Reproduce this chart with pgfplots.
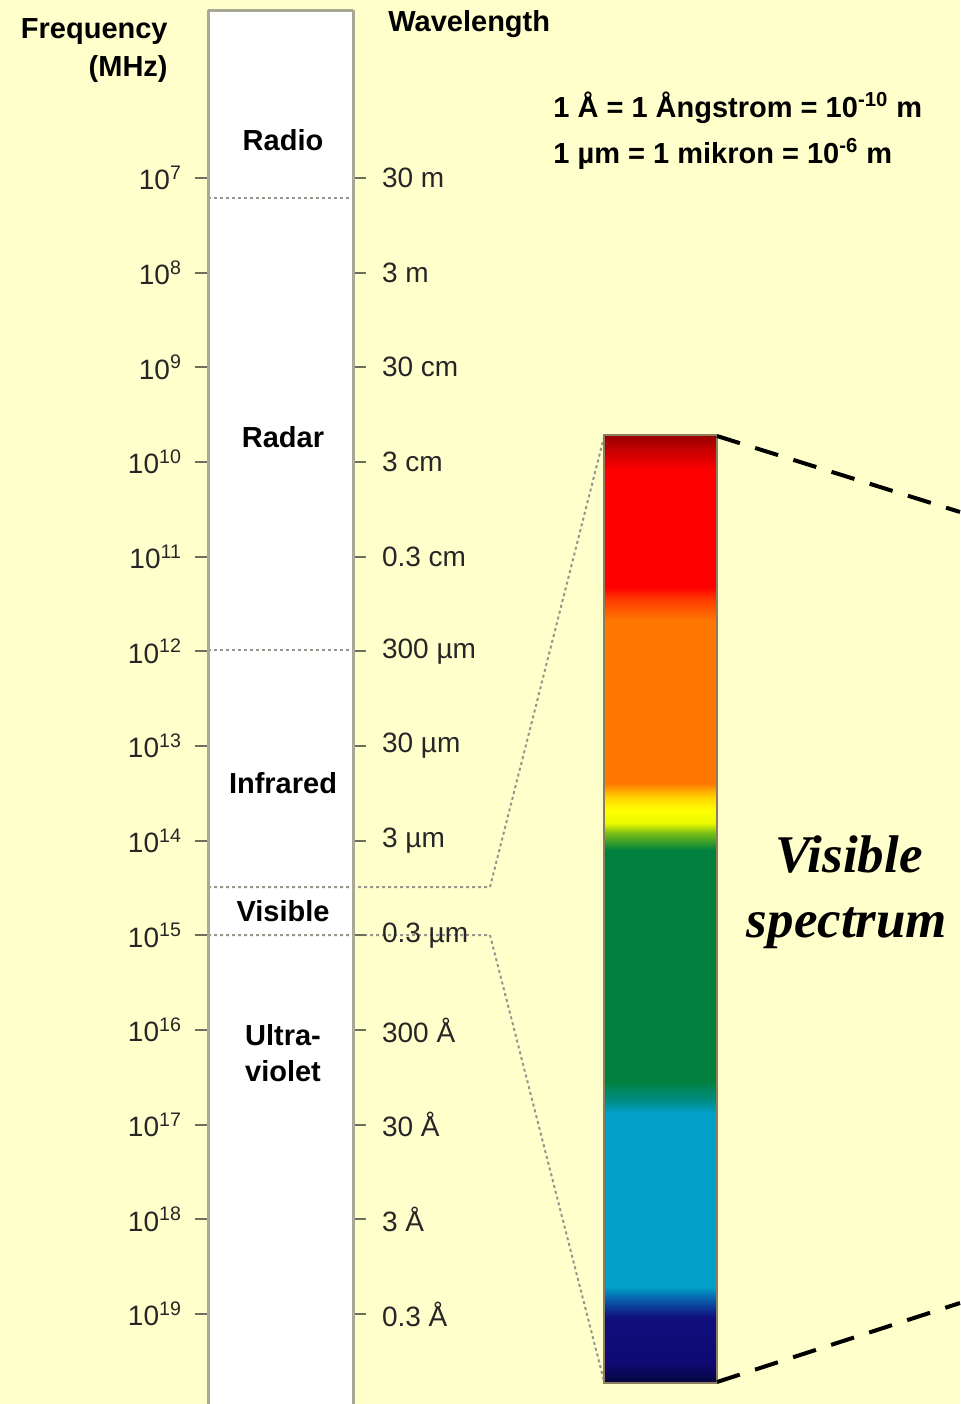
\documentclass[border=0pt]{standalone}
\usepackage{pgfplots}
\pgfplotsset{compat=1.18}
\usepackage{pgfplotstable}
\usepackage{fontspec}
\setmainfont{Liberation Sans}
\newfontfamily\timesfont{Liberation Serif}

\definecolor{bg}{RGB}{255,255,204}
\definecolor{colline}{RGB}{168,168,150}
\definecolor{tickc}{RGB}{110,110,95}
\definecolor{dotc}{RGB}{150,150,140}
\definecolor{barline}{RGB}{140,125,95}

\newcommand\lbl{\fontsize{14}{16}\selectfont}
\newcommand\blbl{\fontsize{14.5}{17}\selectfont\bfseries}
\tikzset{lab/.style={inner sep=0pt, font=\blbl},
    big/.style={inner sep=0pt, anchor=base, font=\timesfont\fontsize{26.5}{30}\selectfont\bfseries\itshape}}

% visible band: pixel x, pixel y, colour position
\pgfplotstableread{
x y c
604 435 0
717 435 0
604 450 15
717 450 15
604 470 35
717 470 35
604 587 152
717 587 152
604 600 165
717 600 165
604 620 185
717 620 185
604 783 348
717 783 348
604 797 362
717 797 362
604 810 375
717 810 375
604 823 388
717 823 388
604 833 398
717 833 398
604 850 415
717 850 415
604 1080 645
717 1080 645
604 1100 665
717 1100 665
604 1113 678
717 1113 678
604 1287 852
717 1287 852
604 1300 865
717 1300 865
604 1317 882
717 1317 882
604 1363 928
717 1363 928
604 1383 948
717 1383 948
}\visbar

\begin{document}
\begin{tikzpicture}
% whole picture, pixel coordinates
\begin{axis}[
    at={(0pt,0pt)}, anchor=south west,
    width=480pt, height=702pt, scale only axis,
    xmin=0, xmax=960, ymin=0, ymax=1404,
    y dir=reverse,
    hide axis, clip=false, no markers,
    colormap={spec}{
        rgb255(0pt)=(150,0,0);
        rgb255(15pt)=(200,0,0);
        rgb255(35pt)=(255,0,0);
        rgb255(152pt)=(255,0,0);
        rgb255(165pt)=(255,60,0);
        rgb255(185pt)=(255,118,0);
        rgb255(348pt)=(255,118,0);
        rgb255(362pt)=(255,210,0);
        rgb255(375pt)=(255,255,0);
        rgb255(388pt)=(235,250,0);
        rgb255(398pt)=(120,190,20);
        rgb255(415pt)=(0,128,60);
        rgb255(645pt)=(0,128,60);
        rgb255(665pt)=(0,140,130);
        rgb255(678pt)=(0,160,200);
        rgb255(852pt)=(0,160,200);
        rgb255(865pt)=(10,90,170);
        rgb255(882pt)=(15,15,125);
        rgb255(928pt)=(15,10,115);
        rgb255(948pt)=(5,5,60)
    },
    point meta min=0, point meta max=948,
]
\addplot[fill=bg, draw=none] coordinates {(0,0)(960,0)(960,1404)(0,1404)} -- cycle;
\addplot[fill=white, draw=none] coordinates {(208,10)(353,10)(353,1404)(208,1404)} -- cycle;
\addplot[colline, line width=1.5pt] coordinates {(208,10)(353,10)};

% band boundaries
\addplot[dotc, line width=1pt, dash pattern=on 1.5pt off 1.5pt] coordinates {(208,198)(353,198)};
\addplot[dotc, line width=1pt, dash pattern=on 1.5pt off 1.5pt] coordinates {(208,650)(353,650)};
\addplot[dotc, line width=1pt, dash pattern=on 1.5pt off 1.5pt] coordinates {(208,887)(490,887)(604,437)};
\addplot[dotc, line width=1pt, dash pattern=on 1.5pt off 1.5pt] coordinates {(208,935)(490,935)(604,1381)};

% visible spectrum bar
\addplot[surf, shader=interp, mesh/cols=2, point meta=explicit] table[x=x, y=y, meta=c] {\visbar};
\addplot[barline, line width=1pt] coordinates {(604,435)(717,435)(717,1383)(604,1383)} -- cycle;
\addplot[black, line width=2pt, dash pattern=on 12pt off 8pt] coordinates {(717,436)(960,512)};
\addplot[black, line width=2pt, dash pattern=on 12pt off 8pt] coordinates {(717,1382)(960,1303)};

% headings and region names
\node[lab, anchor=base east] at (axis cs:168,38) {Frequency};
\node[lab, anchor=base east] at (axis cs:168,76) {(MHz)};
\node[lab, anchor=base west] at (axis cs:388,31) {Wavelength};
\node[lab, anchor=base] at (axis cs:283,150) {Radio};
\node[lab, anchor=base] at (axis cs:283,447) {Radar};
\node[lab, anchor=base] at (axis cs:283,793) {Infrared};
\node[lab, anchor=base] at (axis cs:283,921) {Visible};
\node[lab, anchor=base] at (axis cs:283,1045) {Ultra-};
\node[lab, anchor=base] at (axis cs:283,1081) {violet};
\node[lab, anchor=base west] at (axis cs:553,117) {1 Å = 1 Ångstrom = 10\textsuperscript{-10} m};
\node[lab, anchor=base west] at (axis cs:553,163) {1 µm = 1 mikron = 10\textsuperscript{-6} m};
\node[big] at (axis cs:849,872) {Visible};
\node[big] at (axis cs:847,937) {spectrum};
\end{axis}

% frequency scale (log10 of MHz), left side
\begin{axis}[
    at={(104pt,0pt)}, anchor=south west,
    width=72.5pt, height=697pt, scale only axis,
    xmin=0, xmax=1, ymin=5.2254, ymax=19.951,
    y dir=reverse,
    hide x axis,
    y axis line style={colline, line width=1.5pt},
    ytick={7,...,19},
    yticklabels={10\textsuperscript{7},10\textsuperscript{8},10\textsuperscript{9},
        10\textsuperscript{10},10\textsuperscript{11},10\textsuperscript{12},
        10\textsuperscript{13},10\textsuperscript{14},10\textsuperscript{15},
        10\textsuperscript{16},10\textsuperscript{17},10\textsuperscript{18},
        10\textsuperscript{19}},
    ytick pos=both, tick align=outside,
    major tick length=6.5pt,
    y tick style={tickc, line width=1pt},
    yticklabel style={font=\lbl, text=black!85, xshift=-3pt},
]
\end{axis}

% wavelength labels, right side
\begin{axis}[
    at={(104pt,0pt)}, anchor=south west,
    width=72.5pt, height=697pt, scale only axis,
    xmin=0, xmax=1, ymin=5.2254, ymax=19.951,
    y dir=reverse,
    hide x axis,
    y axis line style={draw=none},
    ytick={7,...,19},
    yticklabels={30 m,3 m,30 cm,3 cm,0.3 cm,300 µm,30 µm,3 µm,0.3 µm,300 Å,30 Å,3 Å,0.3 Å},
    yticklabel pos=right,
    major tick length=0pt,
    yticklabel style={font=\lbl, text=black!85, anchor=west, xshift=11pt},
]
\end{axis}
\pgfresetboundingbox
\useasboundingbox (0,0) rectangle (480pt,702pt);
\end{tikzpicture}
\end{document}
